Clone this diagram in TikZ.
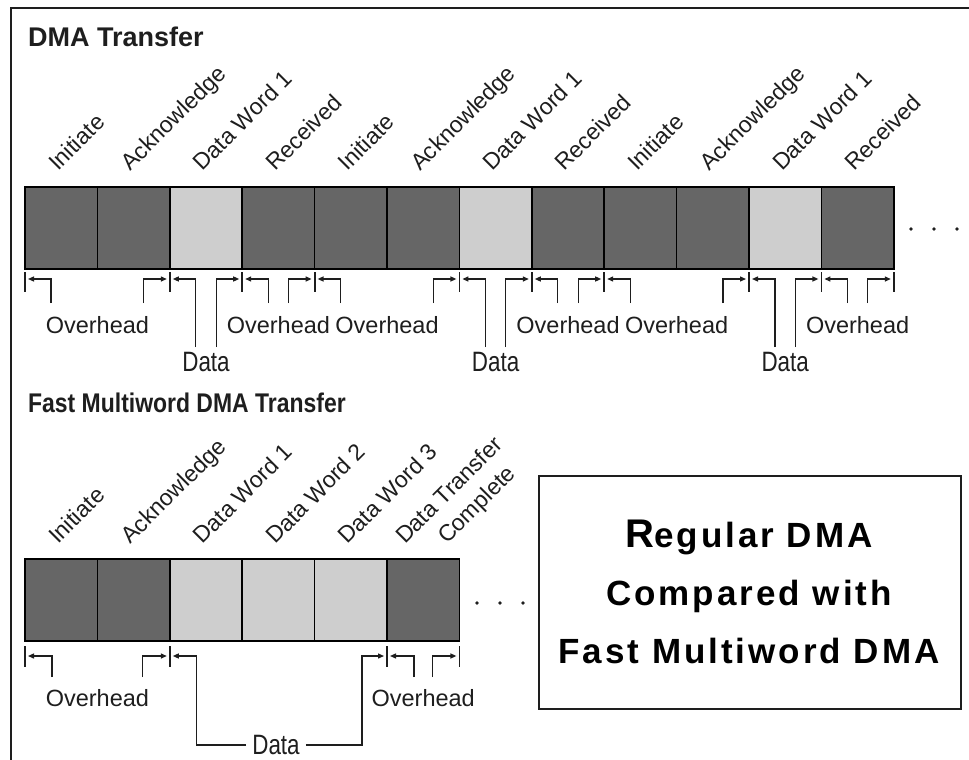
\documentclass[tikz,border=0pt]{standalone}
\usepackage{fontspec}
\usepackage{graphicx}
\setmainfont{Liberation Sans}
\newfontfamily\boxfont[LetterSpace=8.5]{Liberation Sans}
\usetikzlibrary{arrows.meta,calc}
\definecolor{darkbox}{RGB}{102,102,102}
\definecolor{lightbox}{RGB}{206,206,206}
\definecolor{ink}{RGB}{30,30,30}

% overhead/data bracket pieces: #1 left point, #2 right point, #3 tick start, #4 tick end, #5 arrow offset, #6 bottom offset
\newcommand{\grpbrk}[6]{%
  \draw[tickln] ($(#1)+(0,#3)$) -- ($(#1)+(0,#4)$);
  \draw[tickln] ($(#2)+(0,#3)$) -- ($(#2)+(0,#4)$);
  \draw[conn] ($(#1)+(26,#6)$) |- ($(#1)+(3,#5)$);
  \draw[conn] ($(#2)+(-26,#6)$) |- ($(#2)+(-3,#5)$);
}

\begin{document}
\begin{tikzpicture}[x=1pt,y=-1pt,
  cell/.style={draw=black, line width=1.6pt, minimum width=72.4pt, minimum height=82pt,
               inner sep=0pt, outer sep=0pt, anchor=north west},
  dk/.style={cell, fill=darkbox},
  lt/.style={cell, fill=lightbox},
  lbl/.style={rotate=45, anchor=base west, inner sep=0pt, text=ink,
              font=\fontsize{23}{26}\selectfont},
  ohtxt/.style={text=ink, inner sep=0pt, font=\fontsize{23.5}{26}\selectfont},
  datatxt/.style={text=ink, inner sep=0pt, font=\fontsize{28}{30}\selectfont},
  tickln/.style={line width=1.8pt, draw=ink},
  conn/.style={line width=1.3pt, draw=ink, -{Triangle[length=6pt,width=5pt]}},
  dotmark/.style={fill=ink},
  titletxt/.style={anchor=base west, inner sep=0pt, text=ink},
  cmptxt/.style={anchor=base, inner sep=0pt, text=black,
                 font=\boxfont\bfseries\fontsize{35}{40}\selectfont}
]
\useasboundingbox (0,0) rectangle (969,760);
\fill[white] (0,0) rectangle (969,760);

% outer frame
\draw[line width=2pt, draw=ink] (11,760) -- (11,8) -- (969,8);

% titles
\node[titletxt, font=\bfseries\fontsize{27}{30}\selectfont] (t1title) at (28,47) {DMA Transfer};
\node[titletxt, font=\bfseries\fontsize{27}{30}\selectfont] (t2title) at (28,412)
  {\scalebox{0.85}[1]{Fast Multiword DMA Transfer}};

% ---------------- top row ----------------
\foreach \i/\st/\lab in {1/dk/Initiate, 2/dk/Acknowledge, 3/lt/Data Word 1, 4/dk/Received,
                          5/dk/Initiate, 6/dk/Acknowledge, 7/lt/Data Word 1, 8/dk/Received,
                          9/dk/Initiate, 10/dk/Acknowledge, 11/lt/Data Word 1, 12/dk/Received}{
  \node[\st] (t\i) at ({25+(\i-1)*72.4},187) {};
  \node[lbl] (tl\i) at ({25+(\i-1)*72.4+33},172) {\lab};
}
\fill[dotmark] (911,229) circle (1.9) (934,229) circle (1.9) (957,229) circle (1.9);

% top brackets
\grpbrk{t1.south west}{t2.south east}{3}{23}{10}{34}
\grpbrk{t3.south west}{t3.south east}{3}{23}{10}{78}
\grpbrk{t4.south west}{t4.south east}{3}{23}{10}{34}
\grpbrk{t5.south west}{t6.south east}{3}{23}{10}{34}
\grpbrk{t7.south west}{t7.south east}{3}{23}{10}{78}
\grpbrk{t8.south west}{t8.south east}{3}{23}{10}{34}
\grpbrk{t9.south west}{t10.south east}{3}{23}{10}{34}
\grpbrk{t11.south west}{t11.south east}{3}{23}{10}{78}
\grpbrk{t12.south west}{t12.south east}{3}{23}{10}{34}

\node[ohtxt] (oh1) at ($(t1.south west)!.5!(t2.south east)+(0,56)$) {Overhead};
\node[ohtxt] (oh2) at ($(t4.south west)!.5!(t4.south east)+(0,56)$) {Overhead};
\node[ohtxt] (oh3) at ($(t5.south west)!.5!(t6.south east)+(0,56)$) {Overhead};
\node[ohtxt] (oh4) at ($(t8.south west)!.5!(t8.south east)+(0,56)$) {Overhead};
\node[ohtxt] (oh5) at ($(t9.south west)!.5!(t10.south east)+(0,56)$) {Overhead};
\node[ohtxt] (oh6) at ($(t12.south west)!.5!(t12.south east)+(0,56)$) {Overhead};

\node[datatxt] (d1) at ($(t3.south west)!.5!(t3.south east)+(0,93)$) {\scalebox{0.8}[1]{Data}};
\node[datatxt] (d2) at ($(t7.south west)!.5!(t7.south east)+(0,93)$) {\scalebox{0.8}[1]{Data}};
\node[datatxt] (d3) at ($(t11.south west)!.5!(t11.south east)+(0,93)$) {\scalebox{0.8}[1]{Data}};

% ---------------- bottom row ----------------
\foreach \i/\st/\lab in {1/dk/Initiate, 2/dk/Acknowledge, 3/lt/Data Word 1,
                          4/lt/Data Word 2, 5/lt/Data Word 3}{
  \node[\st] (b\i) at ({25+(\i-1)*72.4},559) {};
  \node[lbl] (bl\i) at ({25+(\i-1)*72.4+33},545) {\lab};
}
\node[dk] (b6) at ({25+5*72.4},559) {};
\node[lbl] (bl6a) at (405,545) {Data Transfer};
\node[lbl] (bl6b) at (447,545) {Complete};
\fill[dotmark] (477,603) circle (1.9) (500,603) circle (1.9) (523,603) circle (1.9);

% bottom brackets
\draw[tickln] ($(b1.south west)+(0,5)$) -- ($(b1.south west)+(0,26)$);
\draw[tickln] ($(b2.south east)+(0,5)$) -- ($(b2.south east)+(0,26)$);
\draw[tickln] ($(b5.south east)+(0,5)$) -- ($(b5.south east)+(0,26)$);
\draw[tickln] ($(b6.south east)+(0,5)$) -- ($(b6.south east)+(0,26)$);
\draw[conn] ($(b1.south west)+(27,36)$) |- ($(b1.south west)+(3,15)$);
\draw[conn] ($(b2.south east)+(-27,36)$) |- ($(b2.south east)+(-3,15)$);
\draw[conn] ($(b6.south west)+(27,36)$) |- ($(b6.south west)+(3,15)$);
\draw[conn] ($(b6.south east)+(-27,36)$) |- ($(b6.south east)+(-3,15)$);

\node[ohtxt] (boh1) at ($(b1.south west)!.5!(b2.south east)+(0,57)$) {Overhead};
\node[ohtxt] (boh2) at ($(b6.south west)!.5!(b6.south east)+(0,57)$) {Overhead};

\node[datatxt, inner xsep=6pt] (bd) at (276,745) {\scalebox{0.8}[1]{Data}};
\draw[conn] (bd.west) -| ($(b3.south west)+(27,15)$) -- ($(b3.south west)+(3,15)$);
\draw[conn] (bd.east) -| ($(b5.south east)+(-25,15)$) -- ($(b5.south east)+(-3,15)$);

% ---------------- comparison box ----------------
\node[draw=ink, line width=1.8pt, minimum width=422pt, minimum height=233pt,
      inner sep=0pt, anchor=north west] (cmp) at (538,475) {};
\node[cmptxt] (c1) at (749,547) {{\fontsize{40}{40}\selectfont R}egular DMA};
\node[cmptxt] (c2) at (749,605) {Compared with};
\node[cmptxt] (c3) at (749,663) {Fast Multiword DMA};
\end{tikzpicture}
\end{document}
